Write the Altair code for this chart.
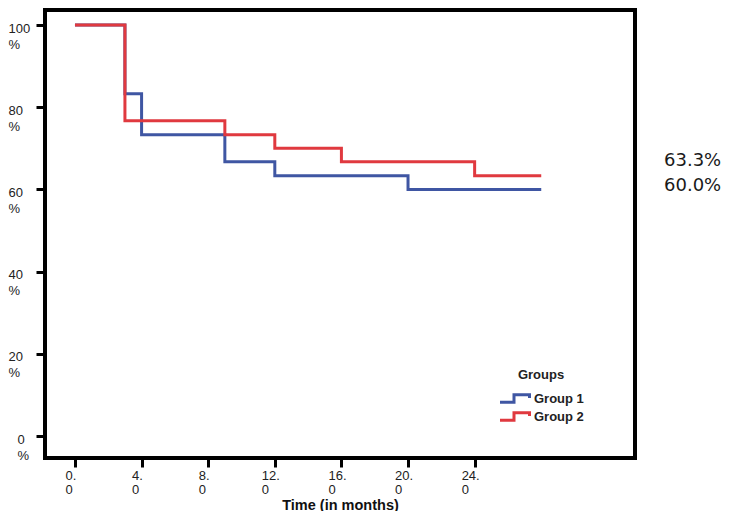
import altair as alt
import pandas as pd

groups = ["Group 1", "Group 2"]
g1_time = [0, 3, 4, 9, 12, 20, 28]
g1_surv = [100.0, 83.3, 73.3, 66.7, 63.3, 60.0, 60.0]
g2_time = [0, 3, 9, 12, 16, 24, 28]
g2_surv = [100.0, 76.7, 73.3, 70.0, 66.7, 63.3, 63.3]
x_ticks = [0, 4, 8, 12, 16, 20, 24]
y_ticks = [0, 20, 40, 60, 80, 100]
colors = ["#3F56A3", "#E0393F"]
end_labels = [f"{g2_surv[-1]:.1f}%", f"{g1_surv[-1]:.1f}%"]

rows = []
for g, ts, ss in [(groups[0], g1_time, g1_surv), (groups[1], g2_time, g2_surv)]:
    for t, s in zip(ts, ss):
        rows.append({"group": g, "time": t, "surv": s})
df = pd.DataFrame(rows)

FONT = "Liberation Sans"
LEG_PATH = "M-1.375,0.92H2.125V-0.92H6V-0.1"

x_enc = alt.X(
    "time:Q",
    scale=alt.Scale(domain=[-1.8, 33.63], nice=False, zero=False),
    axis=alt.Axis(
        values=x_ticks,
        title="Time (in months)",
        titleFont=FONT,
        titleFontSize=14.5,
        titleFontWeight="bold",
        titleColor="#111",
        titleBaseline="alphabetic",
        titleY=51,
        labelExpr="[format(datum.value, 'd') + '.', '0']",
        labelFont=FONT,
        labelFontSize=13,
        labelColor="#222",
        labelAlign="left",
        labelBaseline="top",
        labelLineHeight=14,
        labelOffset={"condition": {"test": "datum.value < 10", "value": -10}, "value": -13.5},
        labelPadding=2,
        labelFlush=False,
        labelOverlap=False,
        domain=False,
        grid=False,
        tickColor="black",
        tickWidth=3,
        tickSize=9,
    ),
)

y_enc = alt.Y(
    "surv:Q",
    scale=alt.Scale(domain=[-5.35, 103.65], nice=False, zero=False),
    axis=alt.Axis(
        values=y_ticks,
        title=None,
        labelExpr="[format(datum.value, 'd'), '%']",
        labelFont=FONT,
        labelFontSize=13,
        labelColor="#222",
        labelAlign="left",
        labelBaseline="top",
        labelLineHeight=16,
        labelOffset=-3,
        labelPadding={
            "condition": {"test": "datum.value == 0", "value": 19},
            "value": 28,
        },
        labelFlush=False,
        labelOverlap=False,
        domain=False,
        grid=False,
        tickColor="black",
        tickWidth=3,
        tickSize=9,
    ),
)

lines = alt.Chart(df).mark_line(
    interpolate="step-after", strokeWidth=3, strokeJoin="miter", strokeCap="butt"
).encode(
    x=x_enc,
    y=y_enc,
    color=alt.Color(
        "group:N",
        scale=alt.Scale(domain=groups, range=colors),
        legend=alt.Legend(
            title="Groups",
            orient="none",
            legendX=454,
            legendY=359,
            padding=0,
            symbolType=LEG_PATH,
            symbolSize=64,
            symbolStrokeWidth=3,
            symbolOffset=0,
            labelFont=FONT,
            labelFontSize=13,
            labelFontWeight="bold",
            labelColor="#222",
            labelOffset=22,
            titleFont=FONT,
            titleFontSize=13,
            titleFontWeight="bold",
            titleColor="#222",
            titleAnchor="middle",
            titlePadding=10,
            rowPadding=-3,
        ),
    ),
)

ann = alt.Chart(pd.DataFrame({"k": [0]})).mark_text(
    text=end_labels,
    font="DejaVu Sans",
    fontSize=18,
    color="#1a1a1a",
    align="left",
    baseline="top",
    lineHeight=25,
).encode(x=alt.value(619), y=alt.value(141.5))

chart = alt.layer(lines, ann).properties(
    width=590,
    height=448,
    background="white",
    autosize=alt.AutoSizeParams(type="none"),
    padding={"left": 37, "top": 2, "right": 86, "bottom": 53},
).configure_view(stroke="black", strokeWidth=4)

chart.save("out.html", embed_options={"renderer": "svg", "actions": False})
